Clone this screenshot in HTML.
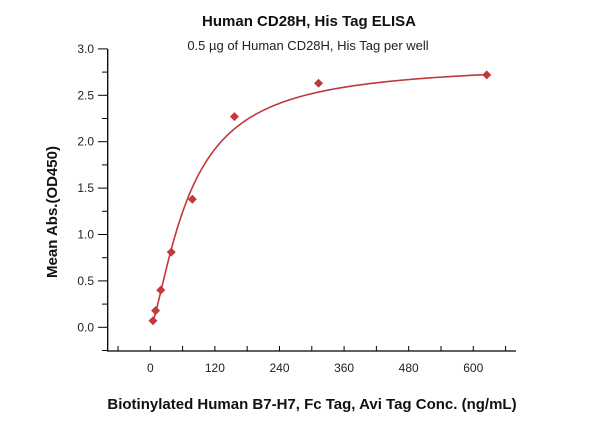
<!DOCTYPE html>
<html><head><meta charset="utf-8"><style>
body{margin:0;background:#fff;}
svg{display:block;font-family:"Liberation Sans",sans-serif;}
</style></head><body>
<svg id="chart" width="600" height="421" viewBox="0 0 600 421">
<text x="309" y="26" text-anchor="middle" font-size="15" font-weight="bold" fill="#111">Human CD28H, His Tag ELISA</text>
<text x="308" y="50" text-anchor="middle" font-size="13" fill="#222">0.5 µg of Human CD28H, His Tag per well</text>
<text transform="translate(57,212) rotate(-90)" text-anchor="middle" font-size="15" font-weight="bold" fill="#111">Mean Abs.(OD450)</text>
<text x="312" y="409" text-anchor="middle" font-size="15" font-weight="bold" fill="#111">Biotinylated Human B7-H7, Fc Tag, Avi Tag Conc. (ng/mL)</text>
<g id="axes"></g><g id="marks"></g>
</svg>
<script>
const xValues=[4.9,9.8,19.5,39,78.1,156.25,312.5,625];
const yValues=[0.07,0.18,0.40,0.81,1.38,2.27,2.63,2.72];
const xTickLabels=[0,120,240,360,480,600];
const yTickLabels=["0.0","0.5","1.0","1.5","2.0","2.5","3.0"];
const fitTop=2.85, fitBottom=0, fitEC50=72, fitHill=1.42;
const NS="http://www.w3.org/2000/svg";
const X=v=>150.3+v*0.5383;
const Y=v=>327.3-v*92.8;
const axes=document.getElementById('axes'), marks=document.getElementById('marks');
function mk(tag,attrs,parent){const e=document.createElementNS(NS,tag);for(const k in attrs)e.setAttribute(k,attrs[k]);parent.appendChild(e);return e;}
let ax=mk('path',{d:`M107.7,49 V351 H516`,stroke:'#000','stroke-width':1.3,fill:'none'},axes);


for(let v=-60;v<=660;v+=60){const t=mk('line',{x1:X(v),x2:X(v),y1:351,y2:346,stroke:'#000','stroke-width':1},axes);

}
xTickLabels.forEach(v=>{const t=mk('text',{x:X(v),y:372,'text-anchor':'middle','font-size':12,fill:'#222'},axes);t.textContent=v;

});
for(let v=-0.25;v<=3.0001;v+=0.25){const t=mk('line',{x1:107.7,x2:Math.abs(v*2-Math.round(v*2))<1e-6?98:102,y1:Y(v),y2:Y(v),stroke:'#000','stroke-width':1},axes);

}
yTickLabels.forEach(s=>{const t=mk('text',{x:94,y:Y(+s)+4,'text-anchor':'end','font-size':12,fill:'#222'},axes);t.textContent=s;

});
let d='';for(let i=0;i<=200;i++){const x=xValues[0]*Math.pow(xValues[xValues.length-1]/xValues[0],i/200);const y=fitBottom+(fitTop-fitBottom)*Math.pow(x,fitHill)/(Math.pow(fitEC50,fitHill)+Math.pow(x,fitHill));d+=(i?'L':'M')+X(x).toFixed(2)+','+Y(y).toFixed(2);}
const c=mk('path',{d:d,stroke:'#c0393b','stroke-width':1.6,fill:'none'},marks);


xValues.forEach((x,i)=>{const cx=X(x),cy=Y(yValues[i]);const p=mk('path',{d:`M${cx},${cy-4.5}L${cx+4.5},${cy}L${cx},${cy+4.5}L${cx-4.5},${cy}Z`,fill:'#c0393b'},marks);

});
</script>
</body></html>
